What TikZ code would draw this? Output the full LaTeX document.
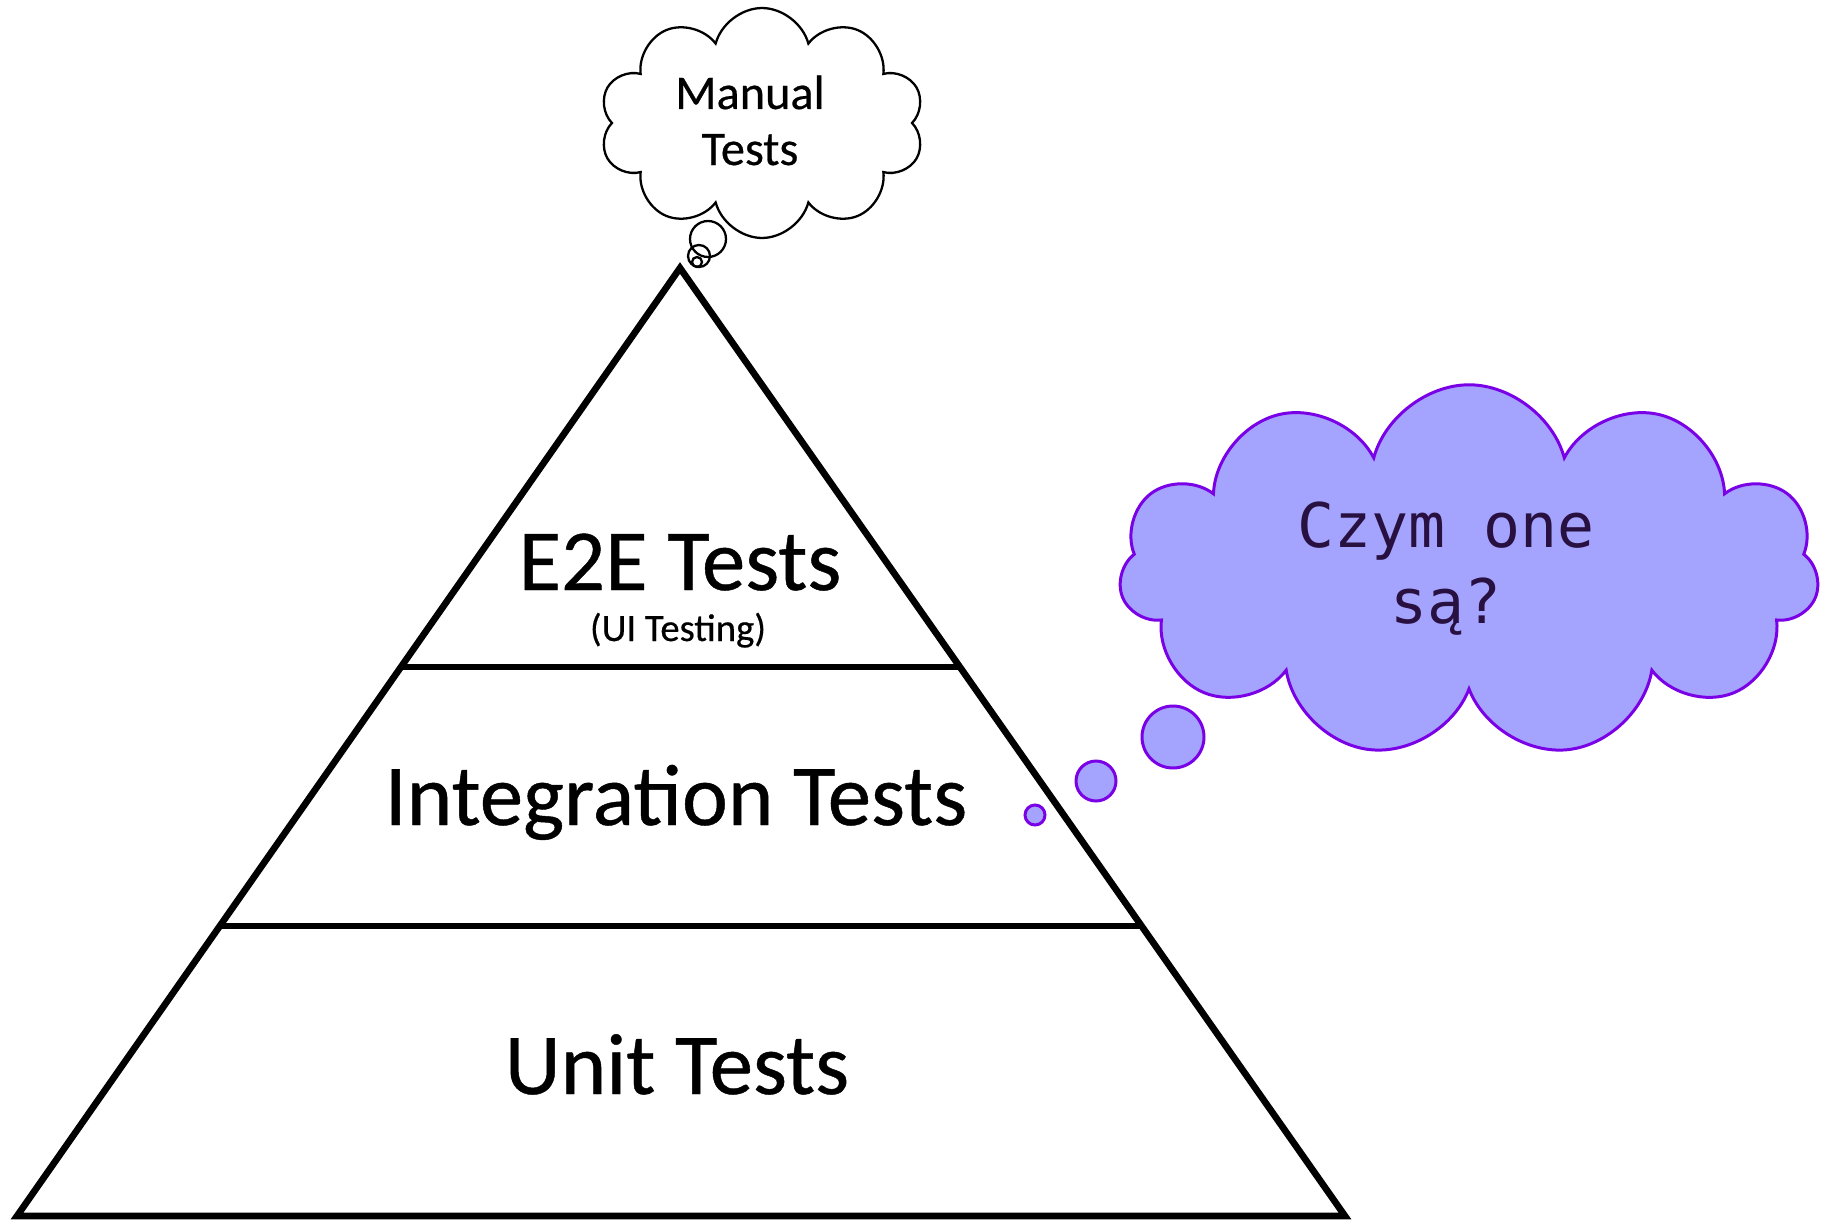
\documentclass[tikz,border=0pt]{standalone}
\usepackage{fontspec}
\setmainfont{Carlito}
\newfontfamily\calibrish{Carlito}[FakeBold=0.5]
\newfontfamily\plexmono{DejaVu Sans Mono}
\usetikzlibrary{calc,shapes.symbols}
\definecolor{bubblefill}{RGB}{164,164,255}
\definecolor{bubbleline}{RGB}{122,0,230}
\definecolor{bubbletext}{RGB}{40,16,64}
\tikzset{
  layerline/.style={line width=3.8pt},
  layertext/.style={anchor=base, font=\calibrish\fontsize{49.5}{58}\selectfont},
  thought/.style={draw=black, line width=1.3pt},
  question/.style={draw=bubbleline, fill=bubblefill, line width=1.7pt}
}

\begin{document}
\begin{tikzpicture}[x=0.02cm, y=-0.02cm]
		%%%%% START %%%%%
		\useasboundingbox (0,0) rectangle (1834,1220);
		
		% pyramid
		\coordinate (apex) at (680,268);
		\coordinate (baseL) at (17,1216);
		\coordinate (baseR) at (1345,1216);
		\draw[layerline, line join=miter] (apex) -- (baseL) -- (baseR) -- cycle;
		\draw[layerline] ($(apex)!0.4209!(baseL)$) -- ($(apex)!0.4209!(baseR)$);
		\draw[layerline] ($(apex)!0.6941!(baseL)$) -- ($(apex)!0.6941!(baseR)$);
		
		\node[layertext] (e2e) at (680,590) {E2E Tests};
		\node[anchor=base, font=\calibrish\fontsize{22}{26}\selectfont] (ui) at (678,641) {(UI Testing)};
		\node[layertext] (integ) at (676,825) {Integration Tests};
		\node[layertext] (unit) at (677,1094) {Unit Tests};
		
		% manual tests cloud
		\node[thought, cloud, cloud puffs=10, cloud ignores aspect, minimum width=6.5cm, minimum height=4.6cm] (manual) at (762,123) {};
		\node[thought, circle, minimum size=0.72cm, inner sep=0pt] (m1) at (708,239) {};
		\node[thought, circle, minimum size=0.44cm, inner sep=0pt] (m2) at (699,256) {};
		\node[thought, circle, minimum size=0.2cm, inner sep=0pt] (m3) at (697,262) {};
		\node[anchor=base, font=\calibrish\fontsize{27.5}{32}\selectfont] (manualtxt) at (750,109) {Manual};
		\node[anchor=base, font=\calibrish\fontsize{27.5}{32}\selectfont] (teststxt) at (750,165) {Tests};
		
		% question cloud
		\node[question, cloud, cloud puffs=11, cloud ignores aspect, minimum width=14.0cm, minimum height=7.45cm] (ask) at (1469,571) {};
		\node[question, circle, minimum size=1.24cm, inner sep=0pt] (q1) at (1173,737) {};
		\node[question, circle, minimum size=0.8cm, inner sep=0pt] (q2) at (1096,781) {};
		\node[question, circle, minimum size=0.4cm, inner sep=0pt] (q3) at (1035,815) {};
		\node[anchor=base, text=bubbletext, font=\plexmono\fontsize{35}{42}\selectfont] (ask1) at (1446,547) {Czym one};
		\node[anchor=base, text=bubbletext, font=\plexmono\fontsize{35}{42}\selectfont] (ask2) at (1446,623) {są?};
		
		%%%%% END %%%%%
	\end{tikzpicture}
\end{document}
